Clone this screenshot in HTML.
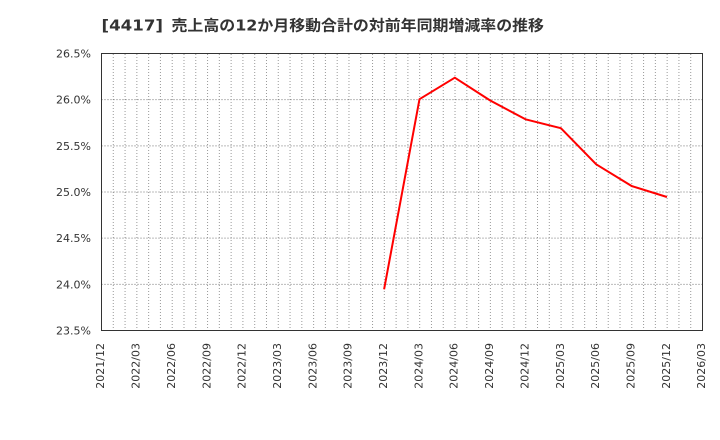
<!DOCTYPE html>
<html><head><meta charset="utf-8"><style>
html,body{margin:0;padding:0;background:#fff;}
svg{display:block;}
text{font-family:"DejaVu Sans","Liberation Sans","Noto Sans CJK JP",sans-serif;fill:#333;}
</style></head><body>
<svg width="720" height="440" viewBox="0 0 720 440" xmlns="http://www.w3.org/2000/svg">
<g font-size="15" font-weight="bold" style="font-family:'DejaVu Sans','Noto Sans CJK JP',sans-serif">
<text x="101.5" y="30.5" textLength="61.5" lengthAdjust="spacingAndGlyphs">[4417]</text>
<text x="171.5" y="30.5" textLength="372.5" lengthAdjust="spacingAndGlyphs">売上高の12か月移動合計の対前年同期増減率の推移</text>
</g>
<g id="vgrid" stroke="#999" stroke-width="1" stroke-dasharray="1,2"></g>
<g stroke="#777" stroke-width="1" stroke-dasharray="1,2">
<line x1="101.5" x2="702.5" y1="99.67" y2="99.67"/>
<line x1="101.5" x2="702.5" y1="145.83" y2="145.83"/>
<line x1="101.5" x2="702.5" y1="192" y2="192"/>
<line x1="101.5" x2="702.5" y1="238.17" y2="238.17"/>
<line x1="101.5" x2="702.5" y1="284.33" y2="284.33"/>
</g>
<rect x="101.5" y="53.5" width="601" height="277" fill="none" stroke="#333" stroke-width="1"/>
<g font-size="11" text-anchor="end">
<text x="91" y="57.5">26.5%</text>
<text x="91" y="103.7">26.0%</text>
<text x="91" y="149.8">25.5%</text>
<text x="91" y="196">25.0%</text>
<text x="91" y="242.2">24.5%</text>
<text x="91" y="288.3">24.0%</text>
<text x="91" y="334.5">23.5%</text>
</g>
<g id="xlabels" font-size="11" text-anchor="end"></g>
<polyline fill="none" stroke="#ff0000" stroke-width="2" stroke-linejoin="round" points="384.1,289.3 419.5,99.2 454.8,77.7 490.2,100.5 525.5,119.3 560.9,128.2 596.2,164.3 631.6,186 666.9,197"/>
</svg>
<script>
(function(){
var ns="http://www.w3.org/2000/svg";
var g=document.getElementById("vgrid");
var step=601/51;
for(var i=1;i<51;i++){
 var x=101.5+i*step;
 var l=document.createElementNS(ns,"line");
 l.setAttribute("x1",x.toFixed(2));l.setAttribute("x2",x.toFixed(2));
 l.setAttribute("y1","54");l.setAttribute("y2","330");
 g.appendChild(l);
}
var xl=document.getElementById("xlabels");
var labs=["2021/12","2022/03","2022/06","2022/09","2022/12","2023/03","2023/06","2023/09","2023/12","2024/03","2024/06","2024/09","2024/12","2025/03","2025/06","2025/09","2025/12","2026/03"];
for(var k=0;k<labs.length;k++){
 var x=101.5+k*3*step+2.7;
 var t=document.createElementNS(ns,"text");
 t.setAttribute("transform","translate("+x.toFixed(2)+",343) rotate(-90)");
 t.textContent=labs[k];
 xl.appendChild(t);
}
})();
</script>
</body></html>
